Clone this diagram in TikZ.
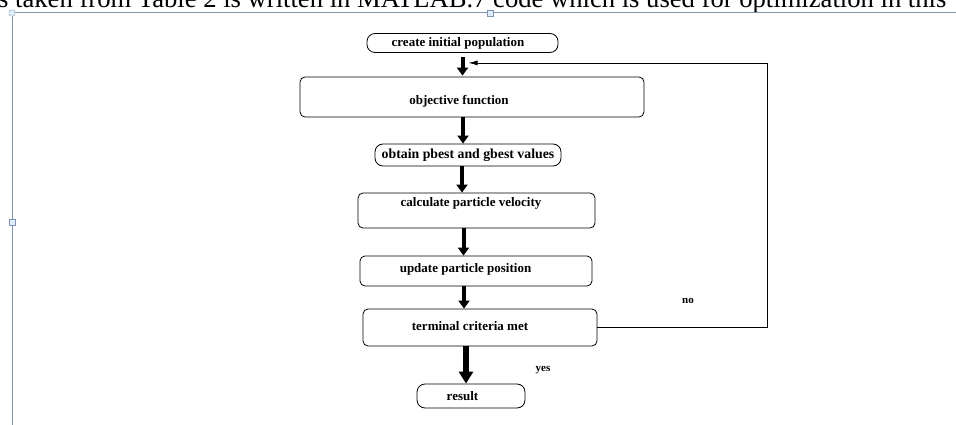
\documentclass[tikz,border=0pt]{standalone}
\usepackage{fontspec}
\setmainfont{Liberation Serif}
\usetikzlibrary{positioning,arrows.meta}

\definecolor{frameblue}{RGB}{128,148,178}
\definecolor{handlefill}{RGB}{222,238,250}

\tikzset{
  stepbox/.style={draw,thick,rounded corners=5pt,inner sep=0pt,
    font=\fontsize{13}{13}\selectfont\bfseries},
  endbox/.style={stepbox,rounded corners=8pt},
  flow/.style={line width=4pt,-{Triangle[length=8pt,width=11pt]}},
  back/.style={line width=0.7pt,-{Latex[length=9pt,width=5pt]}},
  frameline/.style={draw=frameblue,line width=1pt},
  handle/.style={draw=frameblue,fill=handlefill,minimum size=6pt,inner sep=0pt},
  answer/.style={font=\fontsize{11}{11}\selectfont\bfseries}
}

\begin{document}
\begin{tikzpicture}[x=1pt,y=-1pt]
    \useasboundingbox (0,0) rectangle (956,425);
    %%%%% THE PAGE BEHIND
    \begin{scope}
      \clip (0,0) rectangle (956,425);
      \node[anchor=base west,inner sep=0pt] (caption) at (-2,8)
        {\resizebox{948pt}{!}{s taken from Table 2 is written in MATLAB.7 code which is used for optimization in this}};
    \end{scope}
    \draw[frameline] (12,13) -- (956,13);
    \draw[frameline] (12,13) -- (12,425);
    \node[handle,rounded corners=2pt] (h1) at (12,13) {};
    \node[handle] (h2) at (490,13) {};
    \node[handle] (h3) at (12,222) {};
    %%%%% THE STEPS
    \node[endbox,minimum width=191pt,minimum height=19pt] (init) at (462.5,43)
      {create initial population\hspace*{9pt}};
    \node[stepbox,minimum width=344pt,minimum height=40pt,text height=18pt,text depth=2pt] (obj) at (472,97)
      {objective function\hspace*{26pt}};
    \node[endbox,minimum width=186pt,minimum height=22pt,font=\fontsize{13.8}{13.8}\selectfont\bfseries] (best) at (468,155)
      {obtain pbest and gbest values};
    \node[stepbox,minimum width=237pt,minimum height=35pt,text height=9pt,text depth=17pt] (vel) at (476.5,210.5)
      {calculate particle velocity\hspace*{11pt}};
    \node[stepbox,minimum width=232pt,minimum height=30pt,text height=9pt,text depth=7pt] (pos) at (476,271)
      {update particle position\hspace*{21pt}};
    \node[stepbox,minimum width=234pt,minimum height=37pt,text height=9pt,text depth=4pt] (term) at (480,327.5)
      {terminal criteria met\hspace*{20pt}};
    \node[endbox,minimum width=108pt,minimum height=24pt] (res) at (471,396)
      {result\hspace*{17pt}};
    %%%%% LINKS BETWEEN THE STEPS
    \draw[flow,shorten <=4pt,shorten >=1pt] (init.south) -- (init.south |- obj.north);
    \draw[flow] ([xshift=-5pt]best.north |- obj.south) -- ([xshift=-5pt]best.north);
    \draw[flow] ([xshift=-6pt]best.south) -- ([xshift=-6pt]best.south |- vel.north);
    \draw[flow] ([xshift=-13pt]vel.south) -- ([xshift=-13pt]vel.south |- pos.north);
    \draw[flow] ([xshift=-12pt]pos.south) -- ([xshift=-12pt]pos.south |- term.north);
    \draw[line width=6pt,-{Triangle[length=12pt,width=14pt]}] ([xshift=-14pt]term.south) -- ([xshift=-14pt]term.south |- res.north);
    %%%% LOOP BACK TO THE START
    \coordinate (fb) at ([xshift=6pt,yshift=-10pt]init.south);
    \draw[back] (term.east) -- ++(170,0) coordinate (loop) |- (fb);
    \node[answer] (no) at (688,301) {no};
    \node[answer] (yes) at (543,370) {yes};
\end{tikzpicture}
\end{document}
